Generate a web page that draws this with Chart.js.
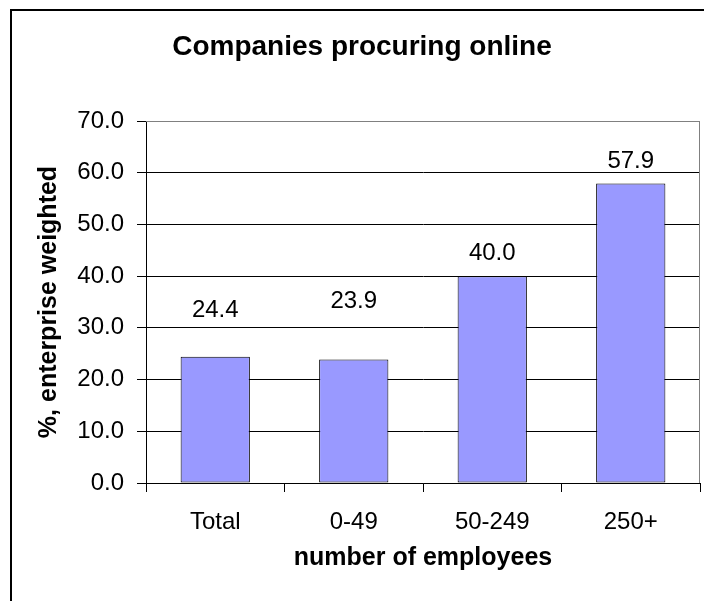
<!DOCTYPE html>
<html>
<head>
<meta charset="utf-8">
<title>Companies procuring online</title>
<script src="https://cdn.jsdelivr.net/npm/chart.js@4.4.1/dist/chart.umd.min.js"></script>
<style>
  html, body { margin: 0; padding: 0; background: #fff; }
  #wrap { width: 704px; height: 601px; }
</style>
</head>
<body>
<div id="wrap"><canvas id="chart" width="704" height="601"></canvas></div>
<script>
// Share of enterprises buying online, by company size
const categories = ['Total', '0-49', '50-249', '250+'];
const shares = [24.4, 23.9, 40.0, 57.9];
const yTicks = [0, 10, 20, 30, 40, 50, 60, 70];

const fontFamily = "'Liberation Sans', Arial, sans-serif";

// Outer frame, title, gray plot border and the value labels above the bars
const decorations = {
    id: 'decorations',
    beforeDatasetsDraw(chart) {
        const { ctx, chartArea: a } = chart;
        ctx.save();
        ctx.strokeStyle = '#808080';
        ctx.lineWidth = 1;
        ctx.beginPath();
        ctx.moveTo(a.left, Math.round(a.top) + 0.5);
        ctx.lineTo(a.right, Math.round(a.top) + 0.5);
        ctx.moveTo(Math.round(a.right) - 0.5, a.top);
        ctx.lineTo(Math.round(a.right) - 0.5, a.bottom);
        ctx.stroke();
        ctx.restore();
    },
    afterDraw(chart, args, opts) {
        const { ctx } = chart;
        ctx.save();
        ctx.strokeStyle = '#000';
        ctx.lineWidth = 2;
        ctx.strokeRect(11, 10, 800, 700);

        ctx.fillStyle = '#000';
        ctx.textAlign = 'center';
        ctx.textBaseline = 'alphabetic';
        ctx.font = 'bold 28px ' + fontFamily;
        ctx.fillText('Companies procuring online', 362, 55);

        ctx.font = '24px ' + fontFamily;
        const meta = chart.getDatasetMeta(0);
        meta.data.forEach((bar, i) => {
            ctx.fillText(shares[i].toFixed(1), bar.x, bar.y - opts.lift[i]);
        });
        ctx.restore();
    }
};

new Chart(document.getElementById('chart').getContext('2d'), {
    type: 'bar',
    data: {
        labels: categories,
        datasets: [{
            data: shares,
            backgroundColor: '#9999ff',
            borderColor: '#000000',
            borderWidth: 1,
            borderSkipped: false,
            barPercentage: 0.5,
            categoryPercentage: 1.0
        }]
    },
    options: {
        responsive: false,
        animation: false,
        devicePixelRatio: 1,
        layout: { padding: { top: 121, left: 0, right: 4, bottom: 0 } },
        plugins: {
            legend: { display: false },
            tooltip: { enabled: false },
            decorations: { lift: [40, 51, 16, 16] }
        },
        scales: {
            x: {
                grid: {
                    drawOnChartArea: false,
                    offset: true,
                    color: '#000',
                    tickLength: 9
                },
                border: { color: '#000', width: 1 },
                ticks: {
                    color: '#000',
                    padding: 16,
                    font: { family: fontFamily, size: 24 }
                },
                title: {
                    display: true,
                    text: 'number of employees',
                    color: '#000',
                    padding: { top: 0, bottom: 28 },
                    font: { family: fontFamily, size: 25, weight: 'bold' }
                },
                afterFit(scale) { scale.height = 118; }
            },
            y: {
                min: 0,
                max: 70,
                grid: {
                    color: ctx => (ctx.tick && ctx.tick.value === 70 ? '#808080' : '#000'),
                    tickColor: '#000',
                    tickLength: 9
                },
                border: { color: '#000', width: 1 },
                afterBuildTicks(scale) {
                    scale.ticks = yTicks.map(v => ({ value: v }));
                },
                ticks: {
                    color: '#000',
                    padding: 13,
                    font: { family: fontFamily, size: 24 },
                    callback: v => Number(v).toFixed(1)
                },
                title: {
                    display: true,
                    text: '%, enterprise weighted',
                    color: '#000',
                    padding: { top: 34, bottom: 0 },
                    font: { family: fontFamily, size: 25, weight: 'bold' }
                },
                afterFit(scale) { scale.width = 146; }
            }
        }
    },
    plugins: [decorations]
});
</script>
</body>
</html>
